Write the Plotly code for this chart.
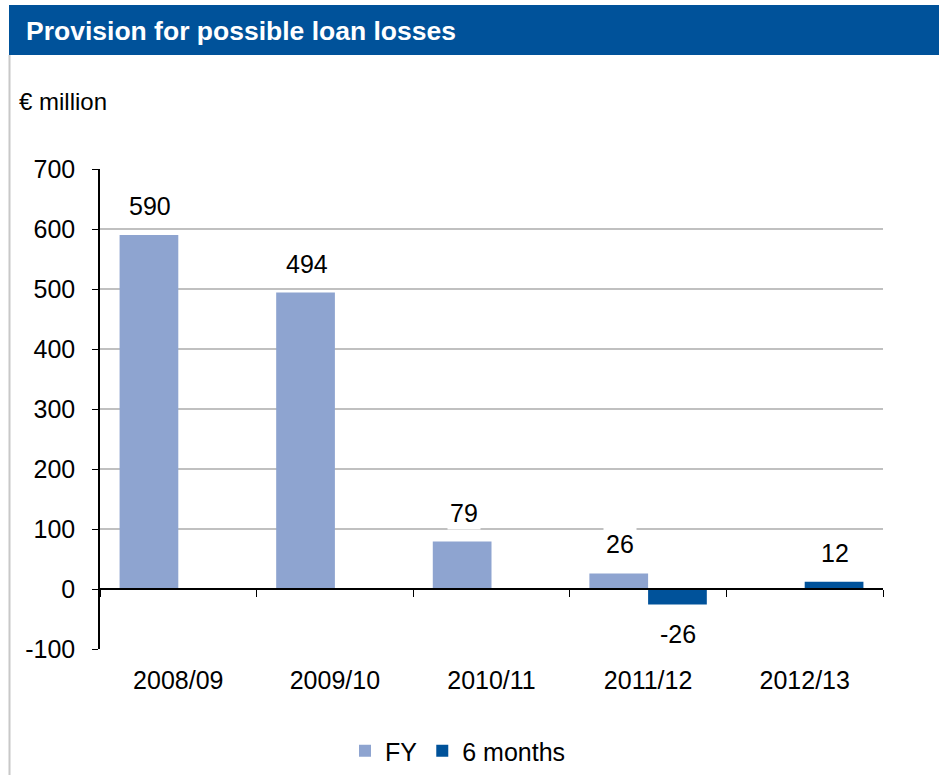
import plotly.graph_objects as go

categories = ["2008/09", "2009/10", "2010/11", "2011/12", "2012/13"]
fy_values = [590, 494, 79, 26, None]
six_month_values = [None, None, None, -26, 12]
y_ticks = [-100, 0, 100, 200, 300, 400, 500, 600, 700]
y_tick_labels = [str(v) for v in y_ticks]

FY_COLOR = "#8EA4D0"
SIX_COLOR = "#00529A"
FONT = "Liberation Sans, Arial, sans-serif"

fig = go.Figure()
fig.add_trace(go.Bar(name="FY", x=categories, y=fy_values, marker_color=FY_COLOR,
                     marker_line_width=0))
fig.add_trace(go.Bar(name="6 months", x=categories, y=six_month_values, marker_color=SIX_COLOR,
                     marker_line_width=0))

# value labels
anns = []
for series, vals, shift in (("FY", fy_values, -28), ("6m", six_month_values, 30)):
    for c, v in zip(categories, vals):
        if v is None:
            continue
        anns.append(dict(x=c, y=v, xref="x", yref="y", text=str(v), showarrow=False,
                         xshift=shift, yshift=29 if v >= 0 else -29,
                         font=dict(size=25, color="black", family=FONT),
                         bgcolor="white", borderpad=2))

L, R, T, B = 100, 56, 169, 126
W, H = 939, 775
pw, ph = W - L - R, H - T - B


def px_x(x):
    return (x - L) / pw


def px_y(y):
    return (H - B - y) / ph


# title text and unit
anns.append(dict(x=px_x(24), y=px_y(31), xref="paper", yref="paper",
                 text="<b>Provision for possible loan losses</b>",
                 showarrow=False, xanchor="left", yanchor="middle",
                 font=dict(size=26.5, color="white", family=FONT)))
anns.append(dict(x=px_x(17), y=px_y(102), xref="paper", yref="paper", text="€ million",
                 showarrow=False, xanchor="left", yanchor="middle",
                 font=dict(size=24, color="black", family=FONT)))

shapes = [
    dict(type="rect", xref="paper", yref="paper", x0=px_x(9), x1=px_x(945), y0=px_y(55), y1=px_y(5),
         fillcolor="#00529A", line_width=0, layer="above"),
    dict(type="line", xref="paper", yref="paper", x0=px_x(9.5), x1=px_x(9.5), y0=px_y(55), y1=px_y(780),
         line=dict(color="#C8C8C8", width=2)),
]

fig.update_layout(
    width=W, height=H,
    margin=dict(l=L, r=R, t=T, b=B, autoexpand=False),
    paper_bgcolor="white", plot_bgcolor="white",
    barmode="group", bargap=0.25, bargroupgap=0,
    font=dict(family=FONT, size=25, color="black"),
    showlegend=True,
    legend=dict(orientation="h", x=px_x(458), xanchor="center", y=px_y(751), yanchor="middle",
                font=dict(size=25, family=FONT), itemwidth=30, traceorder="normal"),
    annotations=anns,
    shapes=shapes,
    xaxis=dict(type="category", categoryorder="array", categoryarray=categories,
               showline=False, ticks="", showgrid=False, zeroline=False,
               ticklabelstandoff=14, tickfont=dict(size=25)),
    xaxis2=dict(type="category", categoryorder="array", categoryarray=categories,
                overlaying="x", anchor="free", position=px_y(589), side="bottom",
                showline=True, linecolor="black", linewidth=1.5,
                ticks="outside", tickson="boundaries", ticklen=7, tickcolor="black",
                showticklabels=False, showgrid=False, zeroline=False, matches="x"),
    yaxis=dict(range=[-100, 700], tickvals=y_ticks, ticktext=y_tick_labels,
               showgrid=True, gridcolor="#C0C0C0", gridwidth=2,
               zeroline=False, showline=True, linecolor="black", linewidth=1.5,
               ticks="outside", ticklen=6, tickcolor="black", tickfont=dict(size=25),
               ticklabelstandoff=12),
)

# invisible trace to activate xaxis2
fig.add_trace(go.Bar(x=categories, y=[None] * len(categories), xaxis="x2", showlegend=False,
                     hoverinfo="skip"))

fig.write_html("out.html")
